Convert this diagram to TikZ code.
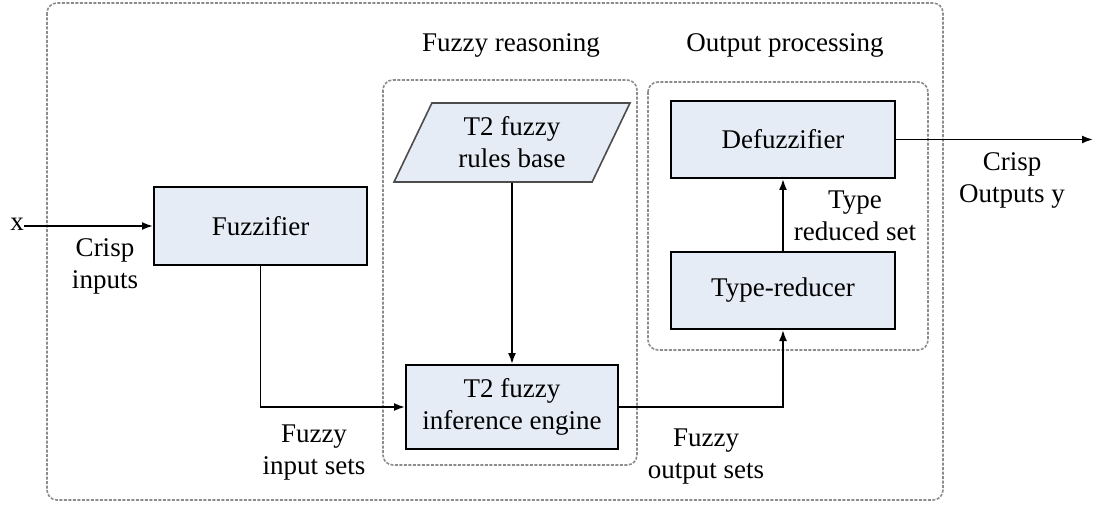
\documentclass[tikz,border=0pt]{standalone}
\usepackage{fontspec}
\setmainfont{Liberation Serif}
\usetikzlibrary{arrows.meta,shapes.geometric}
\definecolor{boxfill}{RGB}{230,236,246}
\definecolor{frame}{RGB}{140,140,140}
\tikzset{
  blk/.style={draw=black, line width=2pt, fill=boxfill, inner sep=0pt, align=center},
  grp/.style={draw=frame, line width=1.6pt, dash pattern=on 3pt off 1.5pt, rounded corners=10pt},
  lbl/.style={align=center, inner sep=0pt},
  wire/.style={line width=1.8pt},
  flow/.style={wire, -{Latex[length=11pt,width=8pt]}},
}
\begin{document}
\begin{tikzpicture}[x=1pt, y=-1pt, font=\fontsize{27}{32}\selectfont]
\useasboundingbox (0,0) rectangle (1104,508);

% grouping frames
\draw[grp] (47,3) rectangle (943,500);
\draw[grp] (383,80) rectangle (637,465);
\draw[grp] (648,82) rectangle (928,350);

% group titles
\node[lbl] (titleR) at (511,45) {Fuzzy reasoning};
\node[lbl] (titleO) at (785,45) {Output processing};

% blocks
\node[blk, minimum width=213pt, minimum height=78pt] (fuzz) at (260.5,226) {Fuzzifier};
\node[blk, shape=trapezium, trapezium left angle=63.7, trapezium right angle=116.3,
      trapezium stretches=true, minimum width=236pt, minimum height=79pt,
      draw=black!70, line width=1.6pt] (rules) at (512,142.5) {T2 fuzzy\\rules base};
\node[blk, minimum width=212pt, minimum height=84pt] (infer) at (512,407) {T2 fuzzy\\inference engine};
\node[blk, minimum width=224pt, minimum height=77pt] (defuzz) at (783,139.5) {Defuzzifier};
\node[blk, minimum width=224pt, minimum height=77pt] (reduce) at (783,290.5) {Type-reducer};

% input and output ends
\node[lbl, anchor=east] (x) at (24,224) {x};
\coordinate (yout) at (1093,139.5);

% connectors
\draw[flow] (x.east |- fuzz.west) -- (fuzz.west);
\draw[flow] (fuzz.south) |- (infer.west);
\draw[flow] (rules.south) -- (infer.north);
\draw[flow] (infer.east) -| (reduce.south);
\draw[flow] (reduce.north) -- (defuzz.south);
\draw[flow] (defuzz.east) -- (yout);

% connector labels
\node[lbl] (lcin) at (105,266) {Crisp\\inputs};
\node[lbl] (lfin) at (314,453) {Fuzzy\\input sets};
\node[lbl] (lfout) at (706,457) {Fuzzy\\output sets};
\node[lbl] (ltr) at (855,216) {Type\\reduced set};
\node[lbl] (lcout) at (1012,180) {Crisp\\Outputs y};
\end{tikzpicture}
\end{document}
